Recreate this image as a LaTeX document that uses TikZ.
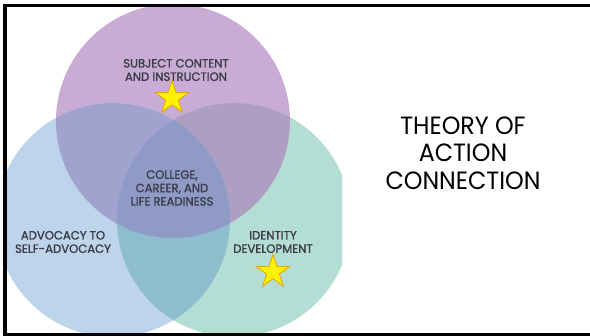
\documentclass[tikz,border=0pt]{standalone}
\usepackage{fontspec}
\setmainfont{Poppins}
\newfontfamily\geo[FakeStretch=0.97,FakeBold=1.2]{Poppins}
\newfontfamily\geot[FakeStretch=0.95]{Poppins}
\usetikzlibrary{shapes.geometric}
\definecolor{pC}{HTML}{C8ACD4}
\definecolor{bC}{HTML}{BED4EA}
\definecolor{gC}{HTML}{B4DED4}
\definecolor{pbC}{HTML}{A2A2CF}
\definecolor{pgC}{HTML}{AE9EC2}
\definecolor{bgC}{HTML}{8EBECD}
\definecolor{pbgC}{HTML}{8F9AC6}
\definecolor{lblC}{HTML}{3A3A48}
\definecolor{starE}{HTML}{E8A400}
\tikzset{
  lbl/.style={font=\geo\fontsize{12}{13.4}\selectfont, text=lblC, align=center, inner sep=0pt},
  ttl/.style={font=\geot\fontsize{25}{27.5}\selectfont, text=black, align=center, inner sep=0pt},
  gstar/.style={star, star points=5, star point ratio=2.6, fill=yellow, draw=starE, line width=0.8pt, minimum size=35pt, inner sep=0pt},
  rad/.style={radius=117pt}
}
\begin{document}
\begin{tikzpicture}[x=1pt,y=-1pt]
\useasboundingbox (0,0) rectangle (590,336);
\fill[white] (0,0) rectangle (590,336);
\coordinate (P) at (173,121);
\coordinate (B) at (113,220);
\coordinate (G) at (234,220);
\begin{scope}
  \clip (7,7) rectangle (342,333);
  \fill[pC] (P) circle[rad];
  \fill[bC] (B) circle[rad];
  \fill[gC] (G) circle[rad];
  \begin{scope}\clip (P) circle[rad]; \fill[pbC] (B) circle[rad]; \end{scope}
  \begin{scope}\clip (P) circle[rad]; \fill[pgC] (G) circle[rad]; \end{scope}
  \begin{scope}\clip (B) circle[rad]; \fill[bgC] (G) circle[rad]; \end{scope}
  \begin{scope}\clip (P) circle[rad]; \clip (B) circle[rad]; \fill[pbgC] (G) circle[rad]; \end{scope}
\end{scope}
% border
\fill[black] (3,4) rectangle (590,7);
\fill[black] (3,4) rectangle (7,336);
\fill[black] (3,333) rectangle (590,336);
% labels
\node[lbl] (subj) at (176,70) {SUBJECT CONTENT\\AND INSTRUCTION};
\node[lbl] (core) at (172,188) {COLLEGE,\\CAREER, AND\\LIFE READINESS};
\node[lbl] (adv) at (63,242) {ADVOCACY TO\\SELF-ADVOCACY};
\node[lbl] (ident) at (273,242) {IDENTITY\\DEVELOPMENT};
\node[gstar] (star1) at (172,98) {};
\node[gstar] (star2) at (273,272) {};
\node[ttl] (title) at (463,153) {THEORY OF\\ACTION\\CONNECTION};
\end{tikzpicture}
\end{document}
